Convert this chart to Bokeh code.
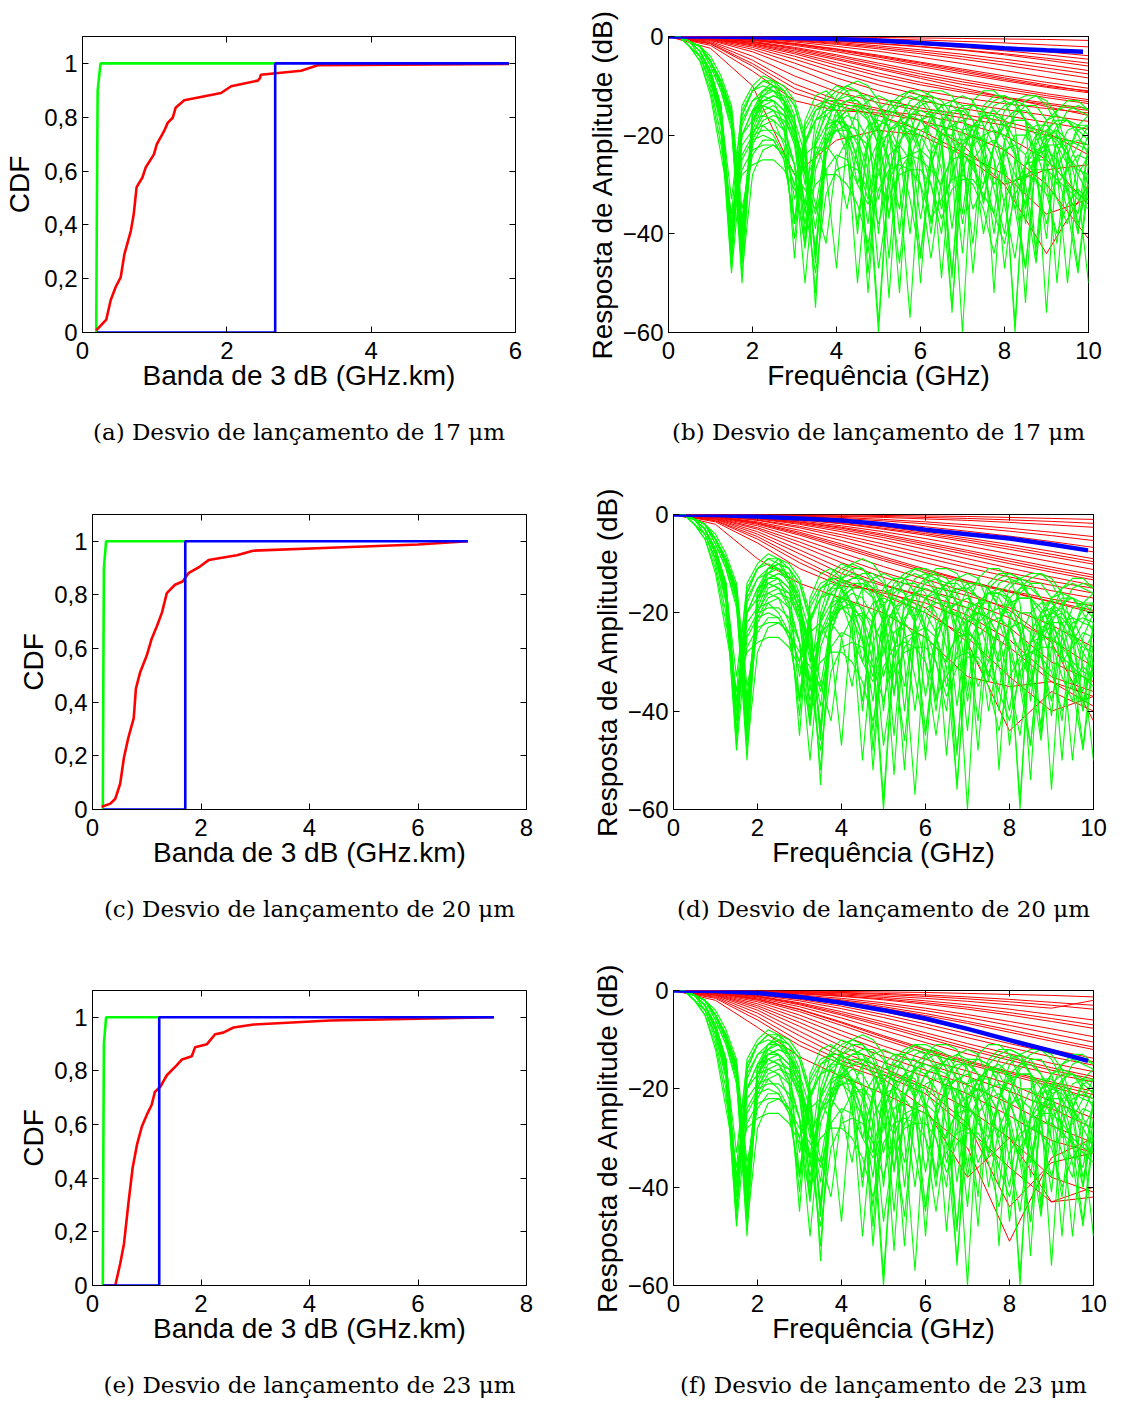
from bokeh.plotting import figure
from bokeh.layouts import column, row
from bokeh.models import FixedTicker, LinearAxis, Range1d
from bokeh.embed import file_html
from bokeh.resources import INLINE

GREEN = "#00ff00"
RED = "#ff0000"
BLUE = "#0000ff"
SANS = "Liberation Sans"
SERIF = "DejaVu Serif"

# ---------------- CDF panels (a), (c), (e) ----------------
CDF_YTICKS = [0, 0.2, 0.4, 0.6, 0.8, 1]
CDF_YLABELS = ["0", "0,2", "0,4", "0,6", "0,8", "1"]
A_XTICKS = [0, 2, 4, 6]
CE_XTICKS = [0, 2, 4, 6, 8]

A_GREEN_X = [0.19, 0.20, 0.21, 0.25, 2.67]
A_GREEN_Y = [0.0, 0.5, 0.9, 1.0, 1.0]
A_RED_X = [0.19, 0.33, 0.39, 0.46, 0.53, 0.58, 0.67, 0.71, 0.75, 0.83, 0.875, 0.99, 1.03,
           1.13, 1.18, 1.25, 1.29, 1.41, 1.92, 2.06, 2.43, 2.46, 2.47, 3.03, 3.26, 5.91]
A_RED_Y = [0.008, 0.048, 0.12, 0.169, 0.206, 0.29, 0.378, 0.44, 0.54, 0.576, 0.613, 0.662, 0.70,
           0.748, 0.779, 0.798, 0.835, 0.863, 0.89, 0.915, 0.936, 0.945, 0.958, 0.973, 0.993, 0.998]
A_BLUE_X = [0.2, 2.67, 2.67, 5.91]
A_BLUE_Y = [0.0, 0.0, 1.0, 1.0]

C_GREEN_X = [0.19, 0.20, 0.21, 0.25, 1.71]
C_GREEN_Y = [0.0, 0.5, 0.9, 1.0, 1.0]
C_RED_X = [0.17, 0.33, 0.42, 0.51, 0.58, 0.66, 0.76, 0.80, 0.88, 1.0, 1.09, 1.19, 1.28, 1.37,
           1.52, 1.66, 1.77, 1.98, 2.14, 2.66, 2.96, 4.38, 6.0, 6.92]
C_RED_Y = [0.01, 0.022, 0.04, 0.096, 0.194, 0.267, 0.341, 0.451, 0.513, 0.574, 0.636, 0.685,
           0.734, 0.807, 0.838, 0.85, 0.881, 0.906, 0.93, 0.948, 0.965, 0.976, 0.988, 1.0]
C_BLUE_X = [0.2, 1.71, 1.71, 6.92]
C_BLUE_Y = [0.0, 0.0, 1.0, 1.0]

E_GREEN_X = [0.19, 0.20, 0.21, 0.25, 1.23]
E_GREEN_Y = [0.0, 0.5, 0.9, 1.0, 1.0]
E_RED_X = [0.20, 0.42, 0.51, 0.58, 0.66, 0.74, 0.82, 0.91, 1.0, 1.09, 1.15, 1.25, 1.37, 1.55,
           1.65, 1.83, 1.89, 2.11, 2.26, 2.41, 2.60, 2.97, 4.38, 7.4]
E_RED_Y = [0.0, 0.0, 0.081, 0.155, 0.303, 0.439, 0.525, 0.593, 0.636, 0.673, 0.722, 0.741,
           0.784, 0.821, 0.843, 0.855, 0.888, 0.90, 0.937, 0.943, 0.962, 0.973, 0.988, 1.0]
E_BLUE_X = [0.2, 1.23, 1.23, 7.4]
E_BLUE_Y = [0.0, 0.0, 1.0, 1.0]

# ---------------- Frequency response panels (b), (d), (f) ----------------
FR_XTICKS = [0, 2, 4, 6, 8, 10]
FR_YTICKS = [-60, -40, -20, 0]
FR_YLABELS = ["\u221260", "\u221240", "\u221220", "0"]

FREQ_G = [0, 0.25, 0.5, 0.75, 1.0, 1.25, 1.5, 1.75, 2.0, 2.25, 2.5, 2.75, 3.0, 3.25, 3.5, 3.75,
          4.0, 4.25, 4.5, 4.75, 5.0, 5.25, 5.5, 5.75, 6.0, 6.25, 6.5, 6.75, 7.0, 7.25, 7.5, 7.75,
          8.0, 8.25, 8.5, 8.75, 9.0, 9.25, 9.5, 9.75, 10.0]
GREEN_DB = [
    [0, 0, -1, -3, -7, -14, -40, -16, -11, -9, -10, -13, -20, -42, -20, -13, -11, -10, -11, -14, -20, -45, -22, -15, -13, -12, -13, -16, -22, -48, -23, -16, -14, -13, -14, -17, -24, -50, -24, -18, -16],
    [0, 0, -1, -2, -5, -9, -15, -38, -18, -13, -12, -13, -17, -24, -44, -24, -17, -15, -15, -17, -22, -30, -46, -25, -19, -18, -18, -21, -26, -35, -30, -22, -18, -17, -17, -19, -23, -30, -27, -24, -25],
    [0, 0, -1, -4, -9, -18, -48, -25, -21, -20, -21, -25, -38, -22, -15, -13, -13, -15, -20, -52, -24, -19, -18, -19, -24, -40, -22, -16, -14, -14, -15, -19, -28, -58, -26, -21, -20, -21, -24, -28, -32],
    [0, 0, -1, -2, -5, -9, -16, -42, -17, -12, -10, -11, -14, -21, -55, -19, -12, -10, -9, -10, -13, -19, -40, -20, -13, -11, -11, -12, -16, -24, -34, -22, -15, -13, -12, -12, -14, -18, -26, -22, -18],
    [0, 0, -2, -4, -10, -20, -40, -20, -15, -14, -15, -18, -26, -43, -24, -19, -17, -18, -22, -30, -60, -28, -19, -16, -15, -16, -20, -56, -24, -18, -16, -17, -21, -32, -47, -25, -21, -20, -23, -31, -50],
    [0, 0, -1, -2, -5, -10, -17, -48, -28, -23, -22, -24, -30, -42, -22, -15, -13, -12, -13, -17, -40, -18, -13, -11, -11, -12, -16, -26, -60, -22, -15, -13, -12, -13, -17, -45, -22, -18, -17, -18, -20],
    [0, 0, -2, -5, -11, -22, -36, -14, -10, -8, -9, -13, -38, -18, -14, -13, -15, -22, -50, -26, -21, -20, -24, -33, -45, -26, -19, -18, -19, -24, -40, -28, -23, -22, -24, -29, -38, -27, -22, -21, -22],
    [0, 0, -1, -2, -5, -9, -15, -44, -21, -17, -16, -17, -21, -28, -36, -27, -24, -25, -30, -34, -28, -21, -17, -16, -17, -20, -27, -48, -24, -18, -16, -16, -18, -23, -35, -26, -22, -22, -26, -38, -30],
    [0, 0, -1, -3, -8, -16, -38, -18, -13, -11, -11, -13, -18, -27, -43, -22, -16, -14, -14, -16, -22, -53, -22, -16, -14, -13, -14, -18, -36, -20, -16, -15, -17, -24, -54, -22, -17, -15, -14, -15, -16],
    [0, 0, -1, -2, -5, -10, -16, -39, -19, -14, -13, -15, -21, -34, -17, -12, -10, -11, -15, -48, -24, -19, -17, -18, -23, -30, -40, -20, -15, -14, -15, -19, -27, -60, -24, -20, -19, -22, -30, -40, -26],
    [0, 0, -2, -4, -9, -17, -42, -22, -19, -18, -20, -24, -30, -21, -17, -16, -18, -24, -38, -22, -16, -15, -16, -21, -50, -23, -17, -15, -15, -17, -24, -40, -24, -20, -20, -23, -30, -42, -24, -19, -18],
    [0, 0, -1, -2, -5, -9, -16, -46, -16, -11, -9, -10, -13, -20, -45, -21, -15, -13, -12, -12, -14, -19, -30, -57, -24, -17, -14, -13, -14, -17, -22, -30, -26, -35, -47, -25, -19, -17, -17, -19, -21],
    [0, 0, -2, -5, -12, -24, -36, -28, -26, -25, -25, -27, -31, -34, -30, -28, -28, -30, -34, -42, -31, -27, -26, -27, -30, -37, -33, -29, -28, -30, -35, -44, -33, -29, -28, -29, -32, -40, -34, -31, -33],
    [0, 0, -1, -2, -5, -10, -17, -41, -20, -15, -14, -16, -22, -38, -25, -20, -19, -21, -26, -33, -22, -15, -13, -12, -13, -16, -22, -49, -19, -13, -11, -11, -13, -18, -38, -20, -17, -16, -17, -20, -24],
    [0, 0, -1, -3, -8, -16, -44, -17, -13, -12, -13, -18, -45, -17, -12, -11, -13, -19, -40, -20, -15, -13, -13, -16, -23, -38, -19, -13, -12, -13, -18, -52, -21, -16, -14, -14, -17, -24, -32, -36, -22],
    [0, 0, -1, -2, -6, -11, -19, -43, -22, -18, -17, -19, -26, -50, -27, -21, -19, -19, -21, -27, -58, -27, -21, -19, -20, -24, -35, -28, -22, -20, -21, -25, -34, -45, -29, -24, -23, -25, -31, -47, -28],
    [0, 0, -1, -3, -8, -17, -47, -16, -11, -10, -11, -14, -19, -28, -52, -24, -18, -16, -17, -21, -33, -24, -22, -25, -44, -26, -20, -18, -17, -19, -24, -31, -40, -25, -20, -18, -18, -20, -24, -27, -28],
    [0, 0, -1, -2, -4, -8, -14, -35, -24, -21, -21, -25, -37, -22, -17, -15, -15, -18, -25, -44, -22, -16, -14, -14, -16, -22, -49, -24, -19, -18, -18, -22, -28, -35, -26, -23, -22, -27, -50, -28, -24],
    [0, 0, -1, -3, -8, -15, -33, -15, -11, -9, -9, -11, -16, -40, -21, -16, -14, -13, -13, -15, -19, -26, -35, -22, -17, -15, -15, -18, -25, -42, -19, -14, -13, -14, -17, -24, -56, -24, -19, -18, -18],
    [0, 0, -1, -2, -6, -11, -18, -50, -17, -14, -15, -19, -33, -24, -22, -27, -47, -20, -15, -13, -12, -13, -16, -22, -37, -24, -20, -20, -23, -27, -30, -22, -18, -17, -17, -20, -26, -33, -38, -25, -20],
    [0, 0, -1, -3, -7, -14, -40, -24, -20, -19, -19, -21, -26, -34, -48, -32, -27, -26, -27, -31, -38, -29, -25, -24, -25, -27, -30, -24, -21, -20, -21, -25, -47, -30, -26, -25, -25, -27, -30, -32, -33],
    [0, 0, -1, -2, -5, -10, -17, -40, -16, -12, -11, -12, -17, -36, -22, -18, -17, -19, -25, -38, -19, -14, -12, -11, -12, -15, -21, -39, -22, -18, -16, -16, -17, -21, -30, -43, -20, -15, -13, -13, -15],
    [0, 0, -1, -3, -8, -16, -45, -20, -15, -13, -13, -15, -19, -26, -34, -42, -25, -21, -20, -22, -27, -36, -27, -24, -23, -25, -31, -55, -27, -22, -20, -19, -20, -24, -32, -46, -27, -22, -21, -22, -23],
    [0, 0, -1, -2, -5, -10, -17, -37, -20, -16, -15, -16, -20, -27, -39, -22, -17, -15, -14, -15, -18, -25, -52, -21, -17, -16, -17, -23, -38, -25, -22, -21, -23, -28, -34, -24, -20, -19, -21, -26, -30],
    [0, 0, -1, -3, -7, -15, -42, -20, -17, -16, -17, -22, -41, -19, -15, -14, -15, -19, -30, -21, -18, -17, -18, -22, -30, -45, -29, -25, -24, -26, -33, -22, -17, -15, -15, -17, -21, -28, -35, -48, -30],
    [0, 0, -1, -2, -5, -10, -16, -44, -17, -13, -12, -13, -18, -30, -24, -22, -25, -35, -22, -18, -17, -18, -23, -40, -21, -16, -14, -14, -16, -21, -28, -36, -21, -15, -13, -12, -13, -16, -23, -40, -22],
    [0, 0, -1, -3, -7, -14, -38, -27, -23, -22, -22, -24, -28, -31, -35, -22, -19, -18, -19, -24, -47, -32, -28, -27, -27, -30, -37, -31, -29, -29, -32, -36, -42, -32, -28, -27, -27, -29, -31, -33, -35],
    [0, 0, -1, -2, -5, -9, -15, -46, -15, -11, -10, -11, -14, -22, -46, -18, -13, -11, -11, -13, -18, -37, -17, -13, -12, -13, -16, -24, -44, -20, -14, -12, -12, -13, -17, -27, -41, -19, -15, -14, -15],
]

FREQ_R = [0, 1, 2, 3, 4, 5, 6, 7, 8, 9, 10]
B_RED_DB = [
    [0, 0, 0, -0.1, -0.1, -0.2, -0.3, -0.4, -0.5, -0.6, -0.8],
    [0, 0, -0.1, -0.2, -0.3, -0.5, -0.7, -1.0, -1.3, -1.7, -2.1],
    [0, 0, -0.1, -0.3, -0.6, -0.9, -1.3, -1.8, -2.4, -3.1, -3.9],
    [0, -0.1, -0.2, -0.4, -0.7, -1.1, -1.6, -2.2, -2.9, -3.7, -4.6],
    [0, -0.1, -0.2, -0.5, -0.9, -1.4, -2.0, -2.7, -3.5, -4.4, -5.4],
    [0, -0.1, -0.3, -0.6, -1.0, -1.5, -2.1, -2.8, -3.7, -4.8, -6.0],
    [0, -0.1, -0.3, -0.7, -1.2, -1.9, -2.7, -3.6, -4.6, -5.7, -6.9],
    [0, -0.1, -0.3, -0.8, -1.4, -2.2, -3.1, -4.1, -5.2, -6.4, -7.6],
    [0, -0.1, -0.4, -0.9, -1.6, -2.5, -3.5, -4.6, -5.8, -7.1, -8.4],
    [0, -0.1, -0.5, -1.1, -2.0, -3.0, -4.2, -5.5, -6.9, -8.3, -9.6],
    [0, -0.2, -0.6, -1.4, -2.5, -3.8, -5.2, -6.6, -8.0, -9.3, -10.5],
    [0, -0.2, -0.7, -1.5, -2.6, -4.0, -5.4, -6.9, -8.4, -9.8, -11.2],
    [0, -0.2, -0.7, -1.6, -2.8, -4.2, -5.7, -7.2, -8.7, -10.1, -11.0],
    [0, -0.2, -0.8, -1.8, -3.1, -4.6, -6.1, -7.6, -9.0, -10.3, -11.4],
    [0, -0.3, -1.0, -2.2, -3.7, -5.4, -7.1, -8.7, -10.2, -11.6, -12.8],
    [0, -0.3, -1.1, -2.4, -4.0, -5.8, -7.6, -9.2, -10.6, -12.0, -13.2],
    [0, -0.3, -1.2, -2.6, -4.4, -6.3, -8.1, -9.7, -11.1, -12.4, -13.6],
    [0, -0.4, -1.4, -2.9, -4.7, -6.6, -8.5, -10.4, -12.3, -14.2, -16.0],
    [0, -0.4, -1.5, -3.2, -5.3, -7.4, -9.3, -10.9, -12.3, -13.5, -14.6],
    [0, -0.5, -1.7, -3.5, -5.8, -8.0, -9.8, -11.3, -12.6, -13.8, -15.0],
    [0, -0.5, -1.9, -4.0, -6.5, -8.9, -10.9, -12.4, -13.6, -14.6, -15.5],
    [0, -0.6, -2.2, -4.6, -7.3, -9.8, -11.9, -13.5, -14.8, -16.0, -17.2],
    [0, -0.7, -2.6, -5.4, -8.4, -11.0, -13.0, -14.6, -16.0, -17.4, -18.8],
    [0, -0.8, -3.1, -6.4, -9.8, -12.6, -14.5, -15.8, -17.2, -19.4, -24.0],
    [0, -1.0, -4.0, -8.0, -11.2, -13.4, -15.0, -16.5, -18.0, -20.0, -22.0],
    [0, -1.2, -4.8, -9.6, -12.8, -14.6, -17.0, -19.5, -23.0, -30.0, -41.0],
    [0, -1.4, -5.5, -10.5, -13.5, -15.0, -16.0, -17.5, -20.0, -25.0, -34.0],
    [0, -1.5, -6.0, -11.5, -14.0, -16.0, -19.0, -23.5, -28.0, -36.0, -33.0],
    [0, -1.8, -7.0, -13.0, -15.0, -15.5, -17.0, -22.0, -30.0, -44.0, -30.0],
    [0, -2.4, -10.0, -28.0, -21.0, -19.0, -20.0, -24.0, -30.0, -27.0, -26.0],
]
D_RED_DB = [
    [0, 0, 0, -0.1, -0.1, -0.2, -0.3, -0.4, -0.6, -0.8, -1.0],
    [0, 0, -0.1, -0.2, -0.3, -0.4, -0.6, -0.8, -1.1, -1.4, -1.8],
    [0, 0, -0.1, -0.2, -0.4, -0.6, -0.9, -1.2, -1.6, -2.1, -2.6],
    [0, 0, -0.1, -0.3, -0.6, -1.0, -1.5, -2.1, -2.8, -3.6, -4.5],
    [0, -0.1, -0.2, -0.4, -0.8, -1.3, -1.9, -2.6, -3.4, -4.3, -5.3],
    [0, -0.1, -0.3, -0.6, -1.1, -1.7, -2.5, -3.4, -4.4, -5.5, -6.7],
    [0, -0.1, -0.3, -0.7, -1.3, -2.1, -3.0, -4.0, -5.1, -6.3, -7.6],
    [0, -0.1, -0.4, -0.9, -1.6, -2.5, -3.6, -4.8, -6.1, -7.5, -9.0],
    [0, -0.1, -0.4, -1.0, -1.8, -2.8, -3.9, -5.2, -6.6, -8.1, -9.6],
    [0, -0.1, -0.5, -1.1, -1.9, -3.0, -4.2, -5.6, -7.1, -8.6, -10.1],
    [0, -0.2, -0.6, -1.3, -2.3, -3.5, -4.9, -6.4, -8.0, -9.6, -11.2],
    [0, -0.2, -0.7, -1.5, -2.6, -4.0, -5.6, -7.3, -9.0, -10.7, -12.3],
    [0, -0.2, -0.7, -1.6, -2.8, -4.3, -6.0, -7.7, -9.5, -11.2, -12.8],
    [0, -0.2, -0.8, -1.8, -3.1, -4.7, -6.4, -8.2, -10.0, -11.7, -13.3],
    [0, -0.3, -0.9, -2.0, -3.5, -5.2, -7.1, -9.0, -10.9, -12.7, -14.4],
    [0, -0.3, -1.1, -2.4, -4.1, -6.0, -8.0, -10.0, -11.9, -13.6, -15.0],
    [0, -0.3, -1.2, -2.7, -4.6, -6.7, -8.8, -10.8, -12.7, -14.4, -16.0],
    [0, -0.4, -1.5, -3.2, -5.3, -7.6, -9.8, -11.9, -13.8, -15.5, -17.0],
    [0, -0.5, -1.8, -3.9, -6.4, -9.0, -11.4, -13.6, -15.5, -17.2, -18.6],
    [0, -0.4, -1.7, -3.6, -6.0, -8.6, -11.1, -13.5, -15.7, -17.7, -19.5],
    [0, -0.5, -2.0, -4.2, -6.8, -9.4, -11.8, -13.9, -15.8, -17.8, -20.0],
    [0, -0.6, -2.3, -4.9, -7.8, -10.6, -13.2, -15.8, -19.5, -26.0, -42.0],
    [0, -0.7, -2.7, -5.6, -8.8, -11.8, -14.3, -16.5, -19.0, -22.5, -27.0],
    [0, -0.8, -3.0, -6.3, -9.8, -12.8, -15.3, -17.8, -21.0, -25.5, -31.0],
    [0, -0.9, -3.5, -7.2, -11.0, -14.2, -17.0, -20.5, -25.5, -33.0, -36.0],
    [0, -1.0, -4.0, -8.0, -12.0, -14.5, -16.5, -19.0, -23.0, -30.0, -34.0],
    [0, -1.2, -4.5, -9.0, -13.2, -16.5, -20.0, -25.0, -33.0, -40.0, -37.0],
    [0, -1.3, -5.0, -9.8, -13.8, -16.0, -18.0, -21.5, -27.0, -34.0, -39.0],
    [0, -1.5, -5.8, -11.0, -14.5, -15.5, -19.0, -26.0, -44.0, -36.0, -40.0],
    [0, -2.0, -9.0, -14.0, -17.0, -20.0, -25.0, -33.0, -35.0, -34.0, -37.0],
]
F_RED_DB = [
    [0, 0, 0, -0.1, -0.2, -0.3, -0.4, -0.6, -0.8, -1.0, -1.3],
    [0, -0.1, -0.2, -0.4, -0.7, -1.1, -1.6, -2.2, -2.9, -3.6, -2.0],
    [0, 0, -0.1, -0.2, -0.4, -0.6, -0.9, -1.3, -1.8, -2.4, -3.0],
    [0, 0, -0.1, -0.3, -0.5, -0.8, -1.2, -1.7, -2.3, -3.0, -3.8],
    [0, -0.1, -0.2, -0.5, -0.9, -1.4, -2.1, -2.9, -3.8, -4.9, -6.0],
    [0, -0.1, -0.3, -0.6, -1.1, -1.7, -2.5, -3.4, -4.5, -5.7, -7.0],
    [0, -0.1, -0.3, -0.7, -1.2, -1.9, -2.8, -3.8, -5.0, -6.3, -7.7],
    [0, -0.1, -0.4, -0.9, -1.6, -2.5, -3.6, -4.9, -6.3, -7.8, -9.4],
    [0, -0.2, -0.5, -1.1, -1.9, -2.9, -4.1, -5.5, -7.1, -8.8, -10.5],
    [0, -0.1, -0.5, -1.2, -2.1, -3.3, -4.7, -6.3, -8.0, -9.8, -11.5],
    [0, -0.2, -0.6, -1.3, -2.3, -3.6, -5.1, -6.7, -8.5, -10.3, -12.0],
    [0, -0.2, -0.7, -1.6, -2.8, -4.3, -6.1, -8.0, -10.0, -12.0, -13.8],
    [0, -0.2, -0.8, -1.8, -3.2, -4.9, -6.8, -8.8, -10.8, -12.7, -14.5],
    [0, -0.2, -0.9, -2.1, -3.7, -5.5, -7.5, -9.6, -11.6, -13.5, -15.2],
    [0, -0.3, -1.1, -2.5, -4.3, -6.4, -8.6, -10.8, -12.9, -14.8, -16.5],
    [0, -0.3, -1.2, -2.7, -4.7, -6.9, -9.2, -11.5, -13.7, -15.7, -17.5],
    [0, -0.3, -1.3, -2.9, -5.0, -7.3, -9.7, -12.0, -14.2, -16.2, -18.0],
    [0, -0.4, -1.5, -3.3, -5.6, -8.1, -10.6, -12.9, -15.0, -16.9, -18.6],
    [0, -0.4, -1.7, -3.8, -6.4, -9.2, -11.9, -14.3, -16.5, -18.6, -20.5],
    [0, -0.5, -1.8, -3.9, -6.6, -9.5, -12.2, -14.6, -16.8, -19.0, -21.2],
    [0, -0.5, -2.0, -4.3, -7.1, -10.0, -12.7, -15.0, -17.2, -19.5, -22.0],
    [0, -0.6, -2.3, -5.0, -8.2, -11.3, -14.0, -16.4, -19.0, -22.5, -26.0],
    [0, -0.7, -2.7, -5.7, -9.1, -12.3, -15.0, -17.5, -20.5, -24.0, -28.0],
    [0, -0.8, -3.1, -6.5, -10.2, -13.4, -16.2, -19.2, -23.0, -27.5, -31.0],
    [0, -0.9, -3.5, -7.3, -11.3, -14.6, -17.5, -21.0, -25.5, -30.5, -33.0],
    [0, -1.0, -4.0, -8.3, -12.5, -15.8, -19.5, -24.0, -30.0, -38.0, -41.0],
    [0, -1.2, -4.6, -9.2, -13.5, -16.5, -20.0, -27.0, -44.0, -35.0, -33.0],
    [0, -1.4, -5.3, -10.3, -14.3, -17.2, -21.0, -28.0, -36.0, -43.0, -42.0],
    [0, -1.6, -6.0, -11.2, -15.0, -18.0, -24.0, -38.0, -30.0, -43.0, -40.0],
    [0, -2.0, -7.5, -13.5, -17.5, -21.0, -25.0, -32.0, -51.0, -34.0, -30.0],
]

FREQ_B = [0, 1, 2, 3, 4, 5, 6, 7, 8, 9, 9.87]
B_BLUE_DB = [0, 0, -0.1, -0.3, -0.5, -0.8, -1.3, -1.8, -2.4, -2.8, -3.1]
D_BLUE_DB = [0, -0.1, -0.4, -0.8, -1.2, -2.0, -3.1, -4.0, -4.9, -6.1, -7.3]
F_BLUE_DB = [0, -0.1, -0.5, -1.3, -2.5, -4.0, -5.7, -7.8, -10.1, -12.3, -14.3]

CAPTIONS = [
    "(a) Desvio de lan\u00e7amento de 17 \u03bcm",
    "(b) Desvio de lan\u00e7amento de 17 \u03bcm",
    "(c) Desvio de lan\u00e7amento de 20 \u03bcm",
    "(d) Desvio de lan\u00e7amento de 20 \u03bcm",
    "(e) Desvio de lan\u00e7amento de 23 \u03bcm",
    "(f) Desvio de lan\u00e7amento de 23 \u03bcm",
]


def style_main_axis(ax, ticks, labels, label_text, tick_standoff, label_standoff):
    ax.ticker = FixedTicker(ticks=ticks)
    ax.major_label_overrides = {t: s for t, s in zip(ticks, labels)}
    ax.major_tick_in = 6
    ax.major_tick_out = 0
    ax.minor_tick_line_color = None
    ax.axis_line_color = "black"
    ax.major_tick_line_color = "black"
    ax.major_label_text_font = SANS
    ax.major_label_text_font_size = "24px"
    ax.major_label_text_color = "black"
    ax.major_label_standoff = tick_standoff
    ax.axis_label = label_text
    ax.axis_label_text_font = SANS
    ax.axis_label_text_font_size = "28px"
    ax.axis_label_text_font_style = "normal"
    ax.axis_label_text_color = "black"
    ax.axis_label_standoff = label_standoff


def make_fig(w, h, xr, yr, borders, xticks, xlabels, yticks, ylabels, xlab, ylab,
             caption, ylab_standoff):
    bl, br, bt, bb = borders
    p = figure(width=w, height=h, x_range=Range1d(*xr), y_range=Range1d(*yr),
               output_backend="svg", toolbar_location=None,
               min_border_left=bl, min_border_right=br,
               min_border_top=bt, min_border_bottom=bb)
    p.xgrid.visible = False
    p.ygrid.visible = False
    p.outline_line_color = "black"
    p.outline_line_width = 1
    p.outline_line_alpha = 1
    p.background_fill_color = "white"
    p.border_fill_color = "white"
    style_main_axis(p.xaxis[0], xticks, xlabels, xlab, 9, -2)
    style_main_axis(p.yaxis[0], yticks, ylabels, ylab, 5, ylab_standoff)
    # inward ticks on the top and right edges of the box (no labels drawn)
    for loc, ticks in (("above", xticks), ("right", yticks)):
        ax = LinearAxis(ticker=FixedTicker(ticks=ticks))
        ax.major_tick_in = 6
        ax.major_tick_out = 0
        ax.minor_tick_line_color = None
        ax.major_label_text_font_size = "1px"
        ax.major_label_text_color = None
        ax.major_label_standoff = 0
        ax.axis_line_color = None
        ax.major_tick_line_color = "black"
        p.add_layout(ax, loc)
    # sub-figure caption, drawn as the label of a bare axis below the x axis
    cap = LinearAxis(ticker=FixedTicker(ticks=[xticks[1]]), axis_label=caption)
    cap.major_tick_in = 0
    cap.major_tick_out = 0
    cap.major_tick_line_color = None
    cap.minor_tick_line_color = None
    cap.axis_line_color = None
    cap.major_label_text_font_size = "1px"
    cap.major_label_text_color = None
    cap.major_label_standoff = 0
    cap.axis_label_text_font = SERIF
    cap.axis_label_text_font_size = "23px"
    cap.axis_label_text_font_style = "normal"
    cap.axis_label_text_color = "black"
    cap.axis_label_standoff = 25
    p.add_layout(cap, "below")
    return p


def cdf_panel(w, h, xr, borders, xticks, caption, ylab_standoff, gx, gy, rx, ry, bx, by):
    p = make_fig(w, h, xr, (0, 1.1), borders, xticks, [str(t) for t in xticks],
                 CDF_YTICKS, CDF_YLABELS, "Banda de 3 dB (GHz.km)", "CDF",
                 caption, ylab_standoff)
    p.line(gx, gy, line_color=GREEN, line_width=2.6)
    p.line(rx, ry, line_color=RED, line_width=2.6)
    p.line(bx, by, line_color=BLUE, line_width=2.6)
    return p


def fr_panel(w, h, borders, caption, red_db, blue_db):
    p = make_fig(w, h, (0, 10), (-60, 0), borders, FR_XTICKS, [str(t) for t in FR_XTICKS],
                 FR_YTICKS, FR_YLABELS, "Frequ\u00eancia (GHz)", "Resposta de Amplitude (dB)",
                 caption, 2)
    p.multi_line([FREQ_R] * len(red_db), red_db, line_color=RED, line_width=1)
    p.multi_line([FREQ_G[:len(g)] for g in GREEN_DB], GREEN_DB, line_color=GREEN, line_width=1.1)
    p.line(FREQ_B, blue_db, line_color=BLUE, line_width=4.5)
    return p


LW, RW = 575, 546
H1, H2, H3 = 470, 475, 456

pa = cdf_panel(LW, H1, (0, 6), (82, LW - 515, 35, H1 - 332), A_XTICKS, CAPTIONS[0], 6,
               A_GREEN_X, A_GREEN_Y, A_RED_X, A_RED_Y, A_BLUE_X, A_BLUE_Y)
pb = fr_panel(RW, H1, (93, RW - 513, 36, H1 - 332), CAPTIONS[1], B_RED_DB, B_BLUE_DB)
pc = cdf_panel(LW, H2, (0, 8), (92, LW - 526, 40, H2 - 339), CE_XTICKS, CAPTIONS[2], 2,
               C_GREEN_X, C_GREEN_Y, C_RED_X, C_RED_Y, C_BLUE_X, C_BLUE_Y)
pd = fr_panel(RW, H2, (98, RW - 518, 44, H2 - 339), CAPTIONS[3], D_RED_DB, D_BLUE_DB)
pe = cdf_panel(LW, H3, (0, 8), (92, LW - 526, 42, H3 - 340), CE_XTICKS, CAPTIONS[4], 2,
               E_GREEN_X, E_GREEN_Y, E_RED_X, E_RED_Y, E_BLUE_X, E_BLUE_Y)
pf = fr_panel(RW, H3, (98, RW - 518, 45, H3 - 341), CAPTIONS[5], F_RED_DB, F_BLUE_DB)

layout = column(row(pa, pb), row(pc, pd), row(pe, pf))
open("out.html", "w").write(file_html(layout, INLINE))
